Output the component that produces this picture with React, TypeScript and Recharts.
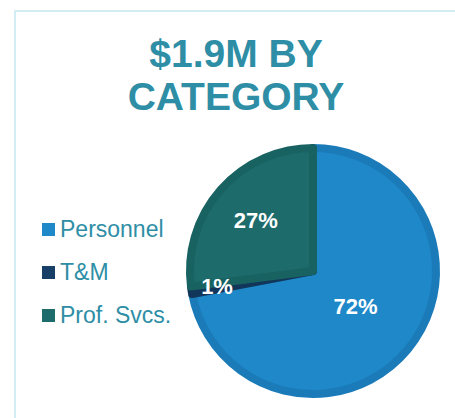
import React from 'react';
import { PieChart, Pie, Cell } from 'recharts';

const categories = ['Personnel', 'T&M', 'Prof. Svcs.'];
const shares = [72, 1, 27];
const fills = ['#1f88c9', '#173f68', '#1d6b6b'];
const edges = ['#1b7bb9', '#12355a', '#196262'];

// label distance from centre as a fraction of the radius, per slice
const labelRadius = [0.45, 0.79, 0.62];

const data = categories.map((name, i) => ({ name, value: shares[i] }));

const RAD = Math.PI / 180;
const FONT = '"Liberation Sans", Arial, sans-serif';

const renderLabel = (props: any) => {
  const { cx, cy, midAngle, outerRadius, index, value } = props;
  const r = outerRadius * labelRadius[index];
  const x = cx + r * Math.cos(-midAngle * RAD);
  const y = cy + r * Math.sin(-midAngle * RAD);
  return (
    <text
      x={x}
      y={y}
      fill="#ffffff"
      textAnchor="middle"
      dominantBaseline="central"
      style={{ fontFamily: FONT, fontWeight: 700, fontSize: 22 }}
    >
      {`${value}%`}
    </text>
  );
};

const LegendBox = () => (
  <div style={{ position: 'absolute', left: 42, top: 208, fontFamily: FONT }}>
    {categories.map((name, i) => (
      <div key={name} style={{ display: 'flex', alignItems: 'center', height: 43 }}>
        <span style={{ width: 13, height: 13, background: fills[i], marginRight: 5, display: 'inline-block' }} />
        <span style={{ color: '#2e8ea6', fontSize: 23 }}>{name}</span>
      </div>
    ))}
  </div>
);

export default function App() {
  return (
    <div style={{ position: 'absolute', left: 0, top: 0, width: 455, height: 418, background: '#fff', overflow: 'hidden' }}>
      <div
        style={{
          position: 'absolute',
          left: 14,
          top: 10,
          width: 460,
          height: 420,
          borderTop: '2px solid #d3edf4',
          borderLeft: '2px solid #d3edf4',
        }}
      />
      <div
        style={{
          position: 'absolute',
          left: 14,
          top: 32,
          width: 444,
          textAlign: 'center',
          color: '#2e8ea6',
          fontFamily: FONT,
          fontWeight: 700,
          fontSize: 39,
          lineHeight: '43px',
        }}
      >
        $1.9M BY
        <br />
        CATEGORY
      </div>
      <div style={{ position: 'absolute', left: 0, top: 0 }}>
        <PieChart width={455} height={418}>
          <Pie
            data={data}
            dataKey="value"
            nameKey="name"
            cx={308}
            cy={266}
            outerRadius={123}
            startAngle={90}
            endAngle={-270}
            stroke="none"
            label={renderLabel}
            labelLine={false}
            isAnimationActive={false}
          >
            {data.map((d, i) => (
              <Cell key={d.name} fill={fills[i]} stroke={edges[i]} strokeWidth={8} strokeLinejoin="round" />
            ))}
          </Pie>
        </PieChart>
      </div>
      <LegendBox />
    </div>
  );
}
